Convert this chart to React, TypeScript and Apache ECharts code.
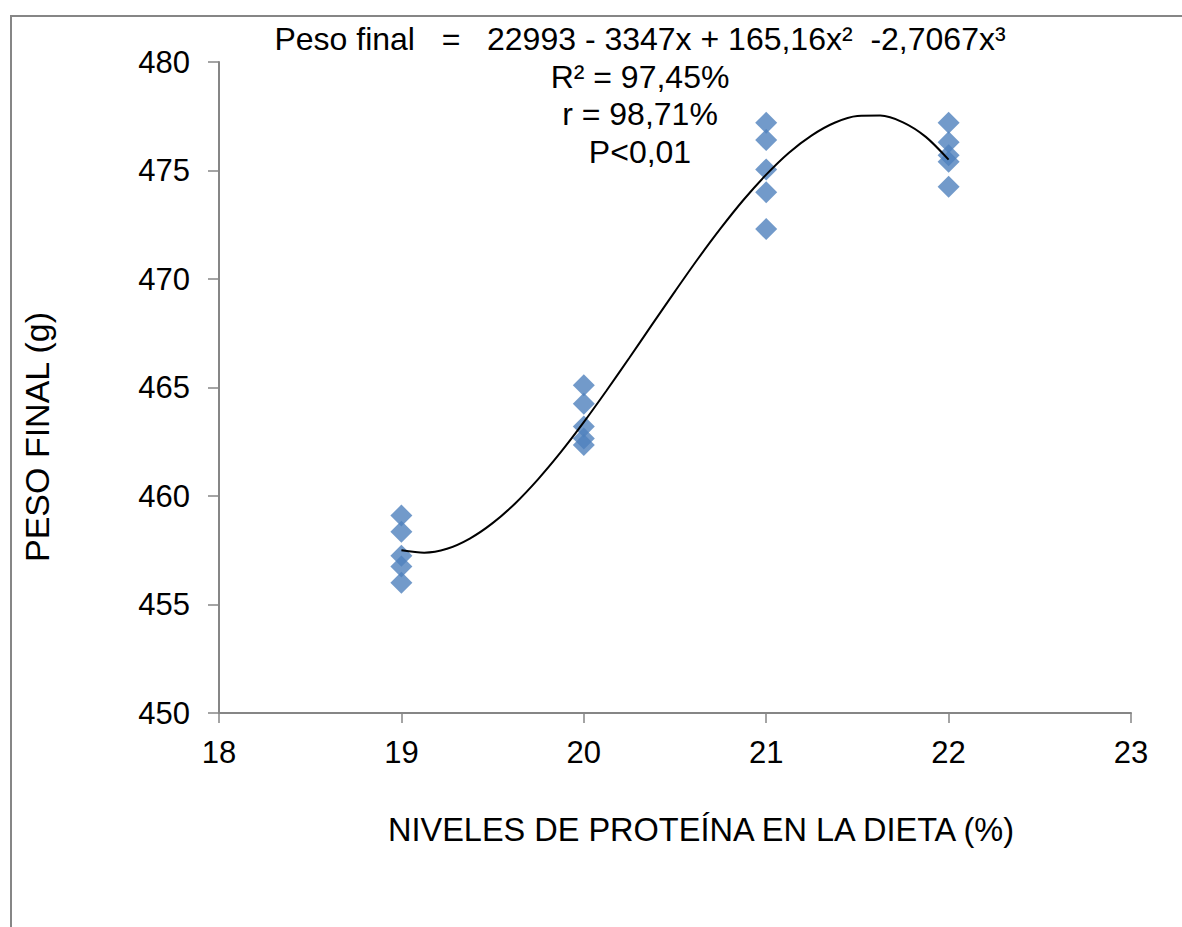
import React, { useEffect, useRef } from "react";
import * as echarts from "echarts";

const xLevels = [19, 20, 21, 22];
const weights19 = [459.1, 458.35, 457.25, 456.75, 456.0];
const weights20 = [465.1, 464.25, 463.2, 462.65, 462.35];
const weights21 = [477.2, 476.4, 475.05, 474.0, 472.3];
const weights22 = [477.2, 476.3, 475.7, 475.4, 474.25];

const trendX = [
  19, 19.125, 19.25, 19.375, 19.5, 19.625, 19.75, 19.875, 20, 20.125, 20.25, 20.375, 20.5,
  20.625, 20.75, 20.875, 21, 21.125, 21.25, 21.375, 21.5, 21.625, 21.75, 21.875, 22,
];
const trendY = [
  457.5, 457.39, 457.57, 458.04, 458.75, 459.67, 460.78, 462.03, 463.4, 464.86, 466.37,
  467.91, 469.43, 470.92, 472.33, 473.64, 474.81, 475.82, 476.62, 477.2, 477.51, 477.53,
  477.22, 476.55, 475.5,
];

const xTicks = { min: 18, max: 23, interval: 1 };
const yTicks = { min: 450, max: 480, interval: 5 };

const eqLines = [
  "Peso final   =   22993 - 3347x + 165,16x²  -2,7067x³",
  "R² = 97,45%",
  "r = 98,71%",
  "P<0,01",
];
const xTitle = "NIVELES DE PROTEÍNA EN LA DIETA (%)";
const yTitle = "PESO FINAL (g)";

const FONT = "'Liberation Sans', Arial, sans-serif";
const AXIS = "#868686";

export default function App() {
  const ref = useRef<HTMLDivElement>(null);
  useEffect(() => {
    if (!ref.current) return;
    const chart = echarts.init(ref.current, undefined, { renderer: "svg" });
    const groups = [weights19, weights20, weights21, weights22];
    const scatterData: number[][] = [];
    groups.forEach((g, i) => g.forEach((v) => scatterData.push([xLevels[i], v])));
    const trendData = trendX.map((x, i) => [x, trendY[i]]);

    chart.setOption({
      animation: false,
      backgroundColor: "#ffffff",
      textStyle: { fontFamily: FONT },
      grid: { left: 219, right: 51, top: 62, bottom: 214 },
      xAxis: {
        type: "value",
        min: xTicks.min,
        max: xTicks.max,
        interval: xTicks.interval,
        axisLine: { show: true, onZero: false, lineStyle: { color: AXIS, width: 2 } },
        axisTick: { show: true, length: 10, lineStyle: { color: AXIS, width: 1.5 } },
        splitLine: { show: false },
        axisLabel: { color: "#000", fontSize: 31, fontFamily: FONT, margin: 24 },
      },
      yAxis: {
        type: "value",
        min: yTicks.min,
        max: yTicks.max,
        interval: yTicks.interval,
        axisLine: { show: true, onZero: false, lineStyle: { color: AXIS, width: 2 } },
        axisTick: { show: true, length: 11, lineStyle: { color: AXIS, width: 1.5 } },
        splitLine: { show: false },
        axisLabel: { color: "#000", fontSize: 31, fontFamily: FONT, margin: 29 },
      },
      graphic: [
        {
          type: "polyline",
          shape: { points: [[11, 940], [11, 16], [1200, 16]] },
          style: { stroke: AXIS, lineWidth: 2, fill: "none" },
          silent: true,
        },
        ...eqLines.map((t, i) => ({
          type: "text",
          x: 640,
          y: 39 + i * 37.5,
          style: {
            text: t,
            fontSize: 32,
            fontFamily: FONT,
            fill: "#000",
            textAlign: "center",
            textVerticalAlign: "middle",
          },
          z: 10,
        })),
        {
          type: "text",
          x: 701,
          y: 830,
          style: {
            text: xTitle,
            fontSize: 32.5,
            fontFamily: FONT,
            fill: "#000",
            textAlign: "center",
            textVerticalAlign: "middle",
          },
        },
        {
          type: "text",
          x: 37,
          y: 437,
          rotation: Math.PI / 2,
          style: {
            text: yTitle,
            fontSize: 34,
            fontFamily: FONT,
            fill: "#000",
            textAlign: "center",
            textVerticalAlign: "middle",
          },
        },
      ],
      series: [
        {
          type: "scatter",
          data: scatterData,
          symbol: "diamond",
          symbolSize: [22, 22],
          itemStyle: { color: "#4F81BD" },
          z: 2,
        },
        {
          type: "line",
          data: trendData,
          smooth: 0.3,
          showSymbol: false,
          symbol: "none",
          lineStyle: { color: "#000", width: 2 },
          z: 3,
        },
      ],
    });
    return () => chart.dispose();
  }, []);

  return (
    <div
      ref={ref}
      style={{ position: "fixed", left: 0, top: 0, width: 1182, height: 927 }}
    />
  );
}
